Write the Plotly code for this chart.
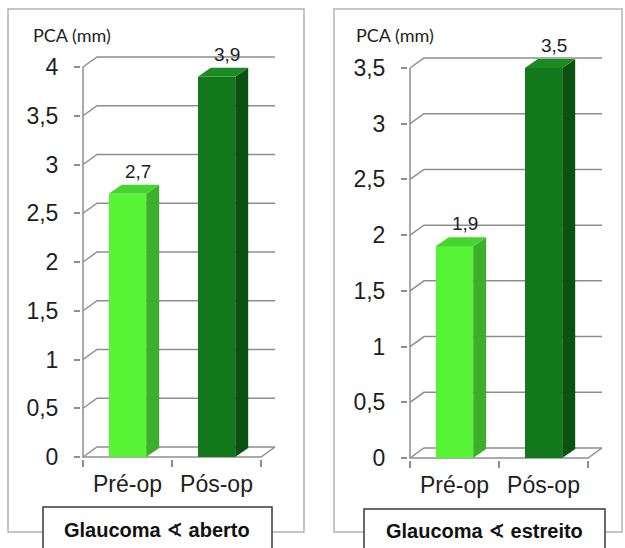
import plotly.graph_objects as go

# ---- data ----
categories = ["Pré-op", "Pós-op"]
aberto_values = [2.7, 3.9]
estreito_values = [1.9, 3.5]
panel_titles = ["Glaucoma ∢ aberto", "Glaucoma ∢ estreito"]
y_axis_label = "PCA (mm)"
y_top = [4.0, 3.5]

# ---- style ----
W, H = 625, 548
FRONT_COLORS = ["#56F434", "#13781B"]
SIDE_COLORS = ["#3CB02A", "#0B5210"]
TOP_COLORS = ["#46D52E", "#1B8A22"]
GRID = "#8E8E8E"
TEXT = "#1E1E1E"
BAR_W = 0.42
WALL_OFF = (14, 10)   # pixel depth of back wall (dx, dy)
BAR_OFF = (13, 9)     # pixel depth of each column

# pixel geometry of each panel: front-left x, front-right x, y of zero, y of top tick
panels = [
    dict(x_left=83, x_right=261, y_zero=457, y_topv=67, values=aberto_values, top=y_top[0],
         box=(8, 9, 304, 532), tbox=(43, 507, 272), tx=157, ty=530, lx=31),
    dict(x_left=410, x_right=588, y_zero=458, y_topv=68, values=estreito_values, top=y_top[1],
         box=(334, 9, 622, 532), tbox=(364, 509, 605), tx=484, ty=531, lx=354),
]

fig = go.Figure()
shapes = []
annotations = []

for i, p in enumerate(panels):
    xa = "x" if i == 0 else "x2"
    ya = "y" if i == 0 else "y2"
    ux = (p["x_right"] - p["x_left"]) / 2.0          # px per category unit
    uy = (p["y_zero"] - p["y_topv"]) / p["top"]      # px per mm
    wdx, wdy = WALL_OFF[0] / ux, WALL_OFF[1] / uy
    bdx, bdy = BAR_OFF[0] / ux, BAR_OFF[1] / uy
    pad_x, pad_y = 2 / ux, 2 / uy

    x_range = [-0.5 - pad_x, 1.5 + wdx + pad_x]
    y_range = [0 - pad_y, p["top"] + wdy + pad_y]
    dom_x = [(p["x_left"] - 2) / W, (p["x_right"] + WALL_OFF[0] + 2) / W]
    dom_y = [1 - (p["y_zero"] + 2) / H, 1 - (p["y_topv"] - WALL_OFF[1] - 2) / H]

    xs = list(range(len(categories)))
    vals = p["values"]

    # front faces
    fig.add_trace(go.Bar(x=xs, y=vals, width=BAR_W, marker=dict(color=FRONT_COLORS, line=dict(width=0)),
                         xaxis=xa, yaxis=ya, showlegend=False, hoverinfo="skip"))
    # side and top faces
    for j, (xc, v) in enumerate(zip(xs, vals)):
        xr = xc + BAR_W / 2
        xl = xc - BAR_W / 2
        fig.add_trace(go.Scatter(x=[xr, xr, xr + bdx, xr + bdx, xr], y=[0, v, v + bdy, bdy, 0],
                                 fill="toself", fillcolor=SIDE_COLORS[j], mode="lines", line=dict(width=0),
                                 xaxis=xa, yaxis=ya, showlegend=False, hoverinfo="skip"))
        fig.add_trace(go.Scatter(x=[xl, xr, xr + bdx, xl + bdx, xl], y=[v, v, v + bdy, v + bdy, v],
                                 fill="toself", fillcolor=TOP_COLORS[j], mode="lines", line=dict(width=0),
                                 xaxis=xa, yaxis=ya, showlegend=False, hoverinfo="skip"))
        annotations.append(dict(x=xc + bdx / 2 + 0.05, y=v + bdy, xref=xa, yref=ya,
                                text=f"{v:.1f}".replace(".", ","), showarrow=False,
                                yanchor="bottom", yshift=1,
                                font=dict(family="Liberation Sans, Arial", size=19, color=TEXT)))

    # back-wall gridlines with diagonal connectors
    nsteps = int(round(p["top"] / 0.5))
    for k in range(nsteps + 1):
        v = k * 0.5
        shapes.append(dict(type="path", xref=xa, yref=ya, layer="below",
                           path=f"M {-0.5},{v} L {-0.5 + wdx},{v + wdy} L {1.5 + wdx},{v + wdy}",
                           line=dict(color=GRID, width=1.5)))
    # front vertical axis, floor front edge and right floor edge
    shapes.append(dict(type="path", xref=xa, yref=ya, layer="below",
                       path=f"M {-0.5},{p['top']} L {-0.5},0 L 1.5,0 L {1.5 + wdx},{wdy}",
                       line=dict(color=GRID, width=1.5)))

    axis_font = dict(family="Liberation Sans, Arial", size=23, color=TEXT)
    fig.update_layout(**{
        ("xaxis" if i == 0 else "xaxis2"): dict(
            domain=dom_x, range=x_range, anchor=ya, showgrid=False, zeroline=False, showline=False,
            automargin=False,
            tickmode="array", tickvals=xs, ticktext=categories, ticks="", tickfont=axis_font,
            ticklabelstandoff=9,
            minor=dict(tickmode="array", tickvals=[-0.5, 0.5, 1.5], ticks="outside", ticklen=7,
                       tickcolor=GRID, tickwidth=1.5, showgrid=False),
            fixedrange=True),
        ("yaxis" if i == 0 else "yaxis2"): dict(
            domain=dom_y, range=y_range, anchor=xa, showgrid=False, zeroline=False, showline=False,
            automargin=False,
            tickmode="array", tickvals=[k * 0.5 for k in range(nsteps + 1)],
            ticks="outside", ticklen=6, tickcolor=GRID, tickwidth=1.5,
            tickfont=axis_font, ticklabelstandoff=11, fixedrange=True),
    })

    # outer frame
    bx0, by0, bx1, by1 = p["box"]
    shapes.append(dict(type="rect", xref="paper", yref="paper", layer="below",
                       x0=bx0 / W, x1=bx1 / W, y0=1 - by1 / H, y1=1 - by0 / H,
                       line=dict(color="#B4B4B4", width=1.5)))
    # title box, open at the bottom edge of the figure
    tx0, ty0, tx1 = p["tbox"]
    shapes.append(dict(type="path", xref="paper", yref="paper", layer="above",
                       path=f"M {tx0 / W},0 L {tx0 / W},{1 - ty0 / H} L {tx1 / W},{1 - ty0 / H} L {tx1 / W},0",
                       fillcolor="white", line=dict(color="#3A3A3A", width=1.5)))
    annotations.append(dict(x=p["tx"] / W, y=1 - p["ty"] / H, xref="paper", yref="paper",
                            text=f"<b>{panel_titles[i]}</b>", showarrow=False,
                            xanchor="center", yanchor="middle",
                            font=dict(family="Liberation Sans, Arial, DejaVu Sans", size=20, color="#111111")))
    annotations.append(dict(x=p["lx"] / W, y=1 - 35 / H, xref="paper", yref="paper",
                            text=y_axis_label, showarrow=False, xanchor="left", yanchor="middle",
                            font=dict(family="Lato, Open Sans", size=18, color=TEXT)))

fig.update_layout(
    width=W, height=H, margin=dict(l=0, r=0, t=0, b=0),
    paper_bgcolor="white", plot_bgcolor="rgba(0,0,0,0)",
    separators=", ", showlegend=False, bargap=0,
    shapes=shapes, annotations=annotations,
)

fig.write_html("out.html")
